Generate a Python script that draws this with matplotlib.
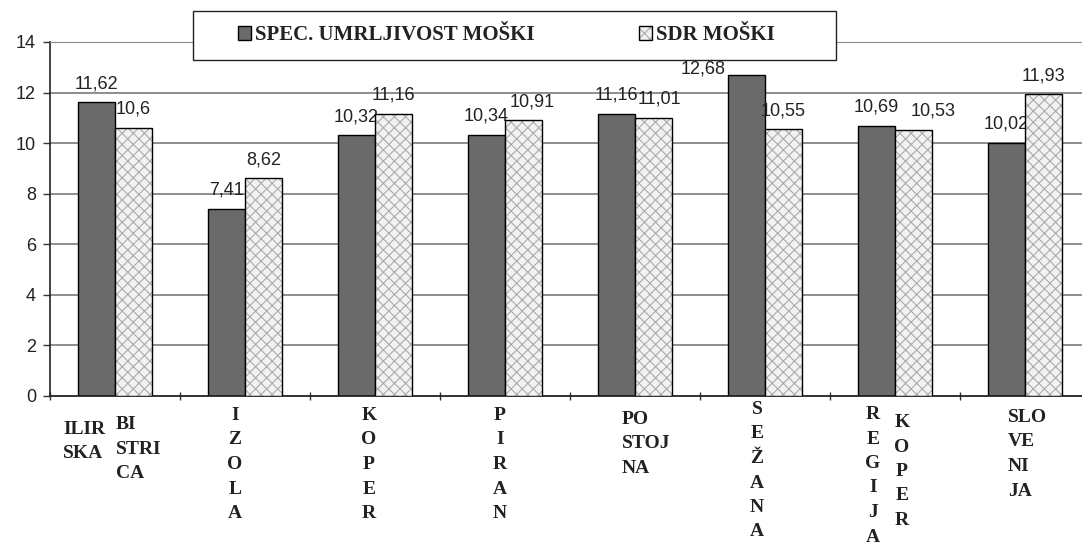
import matplotlib
matplotlib.use("Agg")
import matplotlib.pyplot as plt
from matplotlib.patches import Patch, Rectangle
from matplotlib.legend_handler import HandlerTuple
from matplotlib.font_manager import FontProperties
import numpy as np

# ---- data -------------------------------------------------------------
categories = ["ILIRSKA BISTRICA", "IZOLA", "KOPER", "PIRAN", "POSTOJNA",
              "SEŽANA", "REGIJA KOPER", "SLOVENIJA"]
umrljivost = [11.62, 7.41, 10.32, 10.34, 11.16, 12.68, 10.69, 10.02]
sdr = [10.6, 8.62, 11.16, 10.91, 11.01, 10.55, 10.53, 11.93]
series_names = ["SPEC. UMRLJIVOST MOŠKI", "SDR MOŠKI"]
y_ticks = [0, 2, 4, 6, 8, 10, 12, 14]

# stacked category labels: each inner list is one column of lines
category_labels = [
    [["ILIR", "SKA"], ["BI", "STRI", "CA"]],
    [list("IZOLA")],
    [list("KOPER")],
    [list("PIRAN")],
    [["PO", "STOJ", "NA"]],
    [list("SEŽANA")],
    [list("REGIJA"), list("KOPER")],
    [["SLO", "VE", "NI", "JA"]],
]

# ---- layout helpers (pixels) -----------------------------------------
W, H, DPI = 1082, 546, 100
PT = 72.0 / DPI            # points per pixel
AX_LEFT, CAT_PX = 50, 130  # y axis position, width of one category
Y0_PX, Y14_PX = 396, 42    # pixel rows of 0 and 14
AX_RIGHT = AX_LEFT + CAT_PX * len(categories)

# per-column placement of category labels: (dx from group centre, align, cap top)
label_layout = [
    [(-52, "left", 421), (1, "left", 416)],
    [(-10, "center", 407)],
    [(-6, "center", 407)],
    [(-5, "center", 407)],
    [(-13, "left", 411)],
    [(-8, "center", 401)],
    [(-22, "center", 406), (7, "center", 414)],
    [(-17, "left", 409)],
]
LINE_PX = 24.5
CAP_PX = 13

# value label shifts (dx px, rise px above bar top)
dark_shift = [(0, 14), (0, 14), (0, 14), (0, 14), (0, 14), (-43, 2), (0, 14), (0, 14)]
hatch_shift = [(0, 14), (0, 14), (0, 14), (9, 14), (6, 14), (0, 14), (20, 14), (0, 14)]

DARK = "#6a6a6a"
LIGHT = "#f2f2f2"
plt.rcParams["hatch.color"] = "#ababab"
plt.rcParams["hatch.linewidth"] = 0.8

serif_bold = FontProperties(family="Liberation Serif", weight="bold", size=14)
sans = FontProperties(family="Liberation Sans", size=13)
TXT = "#222222"

fig = plt.figure(figsize=(W / DPI, H / DPI), dpi=DPI)
ax = fig.add_axes([AX_LEFT / W, (H - Y0_PX) / H,
                   (AX_RIGHT - AX_LEFT) / W, (Y0_PX - Y14_PX) / H])

x = np.arange(len(categories))
bw = 37 / CAT_PX

# horizontal reference lines
for yt in y_ticks[1:-1]:
    ax.axhline(yt, color="#7a7a7a", lw=1.2, zorder=1)

ax.bar(x - bw / 2, umrljivost, bw, color=DARK, edgecolor="black", lw=1.0, zorder=2)
ax.bar(x + bw / 2, sdr, bw, color=LIGHT, hatch="xxx", zorder=3)
ax.bar(x + bw / 2, sdr, bw, fill=False, edgecolor="black", lw=1.0, zorder=3.1)

def fmt(v):
    return f"{v:g}".replace(".", ",")

for i, v in enumerate(umrljivost):
    dx, dy = dark_shift[i]
    ax.annotate(fmt(v), xy=(x[i] - bw / 2, v), xytext=(dx * PT, dy * PT),
                textcoords="offset points", ha="center", va="baseline",
                fontproperties=sans, color=TXT, zorder=2.5)
for i, v in enumerate(sdr):
    dx, dy = hatch_shift[i]
    ax.annotate(fmt(v), xy=(x[i] + bw / 2, v), xytext=(dx * PT, dy * PT),
                textcoords="offset points", ha="center", va="baseline",
                fontproperties=sans, color=TXT, zorder=4)

# stacked category names under the axis
for i, cols in enumerate(category_labels):
    for lines, (dx, ha, top) in zip(cols, label_layout[i]):
        for j, line in enumerate(lines):
            base = top + CAP_PX + j * LINE_PX - Y0_PX
            ax.annotate(line, xy=(x[i], 0), xytext=(dx * PT, -base * PT),
                        textcoords="offset points", ha=ha, va="baseline",
                        fontproperties=serif_bold, color=TXT,
                        annotation_clip=False)

ax.set_xlim(-0.5, len(categories) - 0.5)
ax.set_ylim(0, 14)
ax.set_yticks(y_ticks)
ax.set_xticks(np.arange(len(categories) + 1) - 0.5)
ax.set_xticklabels([])
ax.tick_params(axis="x", direction="inout", length=6, width=1, color="#333333")
ax.tick_params(axis="y", direction="out", length=5, width=1, pad=5, color="#333333")
for lab in ax.get_yticklabels():
    lab.set_fontproperties(sans)
    lab.set_color(TXT)

ax.spines["right"].set_visible(False)
ax.spines["top"].set_linestyle((0, (1, 1)))
ax.spines["top"].set_color("#8a8a8a")
ax.spines["top"].set_linewidth(0.8)
ax.spines["left"].set_color("#222222")
ax.spines["bottom"].set_color("#222222")
ax.spines["left"].set_linewidth(1.2)
ax.spines["bottom"].set_linewidth(1.3)

# legend frame and entries
frame = Rectangle((193 / W, 1 - 60 / H), (836 - 193) / W, (60 - 11) / H,
                  transform=fig.transFigure, facecolor="white",
                  edgecolor="#222222", lw=1.0, zorder=5)
fig.add_artist(frame)

h_dark = Patch(facecolor=DARK, edgecolor="black", lw=1.0)
h_fill = Patch(facecolor=LIGHT, hatch="xxx")
h_edge = Patch(fill=False, edgecolor="black", lw=1.0)
leg = fig.legend(handles=[h_dark, (h_fill, h_edge)], labels=series_names,
                 handler_map={tuple: HandlerTuple(ndivide=1, pad=0)},
                 ncol=2, loc="center left",
                 bbox_to_anchor=(238 / W, 1 - 35.5 / H),
                 frameon=False, borderpad=0, borderaxespad=0,
                 handlelength=0.63, handleheight=0.63, handletextpad=0.2,
                 columnspacing=5.0,
                 prop=FontProperties(family="Liberation Serif", weight="bold", size=15))
leg.set_zorder(6)
for t in leg.get_texts():
    t.set_color(TXT)

fig.savefig("out.png", dpi=DPI, facecolor="white")
